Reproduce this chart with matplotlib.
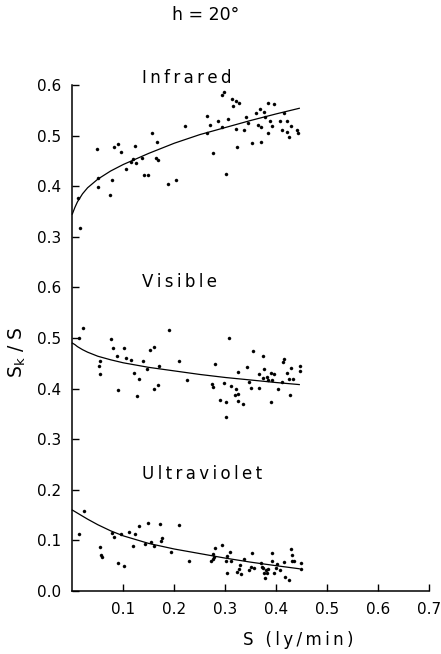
import matplotlib
matplotlib.use("Agg")
import matplotlib.pyplot as plt

# Infrared fraction S_k/S against global radiation S (ly/min)
ir_s = [0.015, 0.012, 0.049, 0.050, 0.051, 0.074, 0.078, 0.082, 0.090, 0.095,
        0.105, 0.116, 0.119, 0.123, 0.125, 0.137, 0.141, 0.148, 0.157, 0.167,
        0.164, 0.168, 0.188, 0.203, 0.221, 0.265, 0.270, 0.265, 0.275, 0.286,
        0.293, 0.297, 0.294, 0.301, 0.305, 0.313, 0.316, 0.320, 0.327, 0.320,
        0.322, 0.337, 0.341, 0.344, 0.352, 0.360, 0.365, 0.368, 0.370, 0.370,
        0.376, 0.378, 0.383, 0.384, 0.388, 0.392, 0.395, 0.407, 0.412, 0.415,
        0.420, 0.421, 0.424, 0.429, 0.441, 0.442]
ir_ratio = [0.318, 0.377, 0.473, 0.416, 0.398, 0.383, 0.412, 0.477, 0.483, 0.468,
            0.435, 0.447, 0.454, 0.479, 0.446, 0.455, 0.422, 0.423, 0.505, 0.488,
            0.456, 0.452, 0.404, 0.412, 0.519, 0.539, 0.520, 0.505, 0.465, 0.529,
            0.580, 0.587, 0.518, 0.425, 0.532, 0.572, 0.558, 0.569, 0.564, 0.514,
            0.477, 0.511, 0.536, 0.525, 0.485, 0.544, 0.521, 0.553, 0.518, 0.488,
            0.547, 0.537, 0.505, 0.564, 0.528, 0.519, 0.562, 0.529, 0.511, 0.544,
            0.529, 0.508, 0.497, 0.519, 0.511, 0.505]

# Visible fraction
vis_s = [0.014, 0.020, 0.054, 0.052, 0.054, 0.075, 0.080, 0.088, 0.090, 0.101,
         0.106, 0.116, 0.121, 0.131, 0.127, 0.139, 0.146, 0.153, 0.161, 0.161,
         0.168, 0.170, 0.190, 0.209, 0.225, 0.280, 0.307, 0.273, 0.275, 0.290,
         0.297, 0.301, 0.302, 0.311, 0.320, 0.319, 0.324, 0.325, 0.325, 0.334,
         0.343, 0.346, 0.350, 0.354, 0.366, 0.367, 0.374, 0.375, 0.373, 0.381,
         0.383, 0.390, 0.391, 0.396, 0.389, 0.404, 0.412, 0.414, 0.416, 0.421,
         0.424, 0.427, 0.429, 0.433, 0.446, 0.446]
vis_ratio = [0.501, 0.520, 0.455, 0.445, 0.429, 0.499, 0.480, 0.464, 0.397, 0.480,
             0.461, 0.456, 0.430, 0.419, 0.385, 0.454, 0.439, 0.476, 0.483, 0.399,
             0.407, 0.445, 0.516, 0.454, 0.418, 0.449, 0.500, 0.409, 0.404, 0.377,
             0.411, 0.343, 0.374, 0.405, 0.399, 0.387, 0.376, 0.389, 0.433, 0.369,
             0.442, 0.414, 0.401, 0.474, 0.401, 0.428, 0.464, 0.439, 0.420, 0.422,
             0.417, 0.431, 0.417, 0.428, 0.374, 0.399, 0.414, 0.453, 0.458, 0.430,
             0.419, 0.387, 0.440, 0.419, 0.445, 0.435]

# Ultraviolet fraction
uv_s = [0.022, 0.014, 0.054, 0.056, 0.059, 0.077, 0.081, 0.095, 0.090, 0.102,
        0.111, 0.118, 0.123, 0.131, 0.143, 0.148, 0.154, 0.161, 0.172, 0.174,
        0.176, 0.194, 0.210, 0.229, 0.272, 0.275, 0.276, 0.280, 0.277, 0.294,
        0.301, 0.303, 0.304, 0.310, 0.312, 0.322, 0.326, 0.330, 0.329, 0.337,
        0.346, 0.350, 0.352, 0.356, 0.370, 0.371, 0.374, 0.376, 0.378, 0.379,
        0.382, 0.384, 0.392, 0.392, 0.395, 0.399, 0.401, 0.408, 0.416, 0.417,
        0.424, 0.428, 0.430, 0.431, 0.435, 0.448, 0.448]
uv_ratio = [0.159, 0.113, 0.087, 0.071, 0.067, 0.114, 0.106, 0.113, 0.055, 0.049,
            0.116, 0.088, 0.112, 0.128, 0.093, 0.134, 0.097, 0.089, 0.133, 0.099,
            0.104, 0.078, 0.131, 0.059, 0.059, 0.064, 0.073, 0.086, 0.068, 0.090,
            0.060, 0.069, 0.036, 0.077, 0.060, 0.038, 0.043, 0.034, 0.052, 0.063,
            0.041, 0.047, 0.076, 0.045, 0.056, 0.047, 0.046, 0.036, 0.025, 0.041,
            0.035, 0.043, 0.075, 0.060, 0.035, 0.046, 0.053, 0.041, 0.057, 0.027,
            0.022, 0.084, 0.072, 0.059, 0.059, 0.056, 0.043]

# Fitted curves
fit_s = [0.0, 0.005, 0.01, 0.02, 0.03, 0.05, 0.075, 0.1, 0.15, 0.2, 0.25,
         0.3, 0.35, 0.4, 0.445]
ir_fit = [0.345, 0.358, 0.369, 0.385, 0.397, 0.414, 0.430, 0.443, 0.465,
          0.485, 0.502, 0.516, 0.530, 0.543, 0.554]
vis_fit = [0.490, 0.487, 0.483, 0.477, 0.472, 0.464, 0.457, 0.451, 0.442,
           0.435, 0.428, 0.422, 0.417, 0.412, 0.408]
uv_fit = [0.160, 0.157, 0.154, 0.148, 0.142, 0.131, 0.119, 0.109, 0.094,
          0.083, 0.074, 0.065, 0.057, 0.050, 0.044]

panel_names = ["Ultraviolet", "Visible", "Infrared"]
panel_ticks = [[0.0, 0.1, 0.2], [0.3, 0.4, 0.5, 0.6], [0.3, 0.4, 0.5, 0.6]]
x_ticks = [0.1, 0.2, 0.3, 0.4, 0.5, 0.6, 0.7]

# vertical shift of each panel on the shared axis
offsets = [0.0, 0.0, 0.4]

fig = plt.figure(figsize=(4.41, 6.54), dpi=100)
ax = fig.add_axes([0.164, 0.0963, 0.8095, 0.7737])

series = [(uv_s, uv_ratio, uv_fit), (vis_s, vis_ratio, vis_fit),
          (ir_s, ir_ratio, ir_fit)]
for (s, r, f), off in zip(series, offsets):
    ax.plot(s, [v + off for v in r], linestyle="none", marker="o",
            ms=2.2, mfc="black", mec="black", mew=0.3, clip_on=False)
    ax.plot(fit_s, [v + off for v in f], color="black", lw=0.9,
            clip_on=False)

yt, yl = [], []
for ticks, off in zip(panel_ticks, offsets):
    for t in ticks:
        yt.append(round(t + off, 3))
        yl.append(f"{t:.1f}")
ax.set_yticks(yt)
ax.set_yticklabels(yl)
ax.set_xticks(x_ticks)
ax.set_xticklabels([f"{t:.1f}" for t in x_ticks])
ax.set_xlim(0, 0.7)
ax.set_ylim(0, 1.0)

for side in ("top", "right"):
    ax.spines[side].set_visible(False)
for side in ("left", "bottom"):
    ax.spines[side].set_linewidth(1.1)
ax.tick_params(axis="both", direction="in", length=5, width=1.0,
               labelsize=11, colors="black")
ax.tick_params(axis="y", pad=8)
ax.tick_params(axis="x", pad=8)

thin = "\u2009"
label_pos = [0.231, 0.611, 1.013]
for name, ypos in zip(panel_names, label_pos):
    ax.text(0.136, ypos, thin.join(name), ha="left", va="center",
            fontsize=12, clip_on=False)

fig.text(0.467, 0.977, "h = 20°", ha="center", va="center", fontsize=12.5)
fig.text(0.040, 0.461, r"$\mathregular{S_k}$ / S", rotation=90,
         ha="center", va="center", fontsize=13.5)
fig.text(0.676, 0.0214, thin.join("S (ly/min)"), ha="center",
         va="center", fontsize=12)

fig.savefig("out.png", dpi=100)
